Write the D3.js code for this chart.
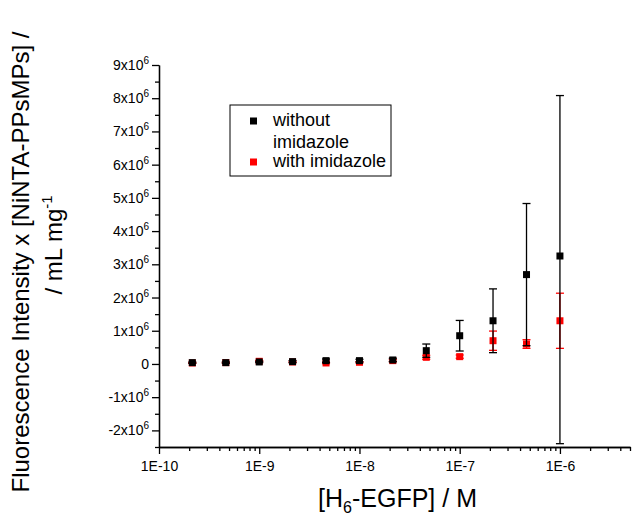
<!DOCTYPE html>
<html>
<head>
<meta charset="utf-8">
<script src="https://cdn.jsdelivr.net/npm/d3@7"></script>
<style>
  body { margin: 0; background: #fff; }
  svg { font-family: "Liberation Sans", Arial, sans-serif; }
</style>
</head>
<body>
<div id="chart"></div>
<script>
// [H6-EGFP] in M
const concentrations = [2.15e-10, 4.64e-10, 1e-9, 2.15e-9, 4.64e-9, 1e-8, 2.15e-8, 4.64e-8, 1e-7, 2.15e-7, 4.64e-7, 1e-6]
// intensity x [NiNTA-PPsMPs], in units of 1e6
const withoutMean = [0.04, 0.04, 0.06, 0.07, 0.10, 0.10, 0.12, 0.40, 0.85, 1.30, 2.69, 3.25]
const withoutErrUp = [0.02, 0.02, 0.02, 0.03, 0.05, 0.04, 0.05, 0.20, 0.46, 0.96, 2.14, 4.83]
const withoutErrDown = [0.02, 0.02, 0.02, 0.03, 0.05, 0.04, 0.05, 0.20, 0.46, 0.96, 2.14, 5.65]
const withMean = [0.03, 0.04, 0.08, 0.06, 0.03, 0.05, 0.10, 0.20, 0.22, 0.70, 0.60, 1.30]
const withErr = [0.01, 0.01, 0.02, 0.02, 0.02, 0.02, 0.03, 0.06, 0.05, 0.29, 0.13, 0.83]

const xMajorTicks = [1e-10, 1e-9, 1e-8, 1e-7, 1e-6]
const yMajorTicks = [-2, -1, 0, 1, 2, 3, 4, 5, 6, 7, 8, 9]
const seriesNames = ['without|imidazole', 'with imidazole']

const width = 635, height = 515
const margin = {top: 65, right: 5, bottom: 68, left: 159}
const plotWidth = width - margin.left - margin.right
const plotHeight = height - margin.top - margin.bottom

const x = d3.scaleLog().domain([1e-10, 5e-6]).range([0, plotWidth])
const y = d3.scaleLinear().domain([-2.5, 9]).range([plotHeight, 0])

const svg = d3.select('#chart').append('svg')
    .attr('width', width)
    .attr('height', height)

const g = svg.append('g')
    .attr('transform', `translate(${margin.left}, ${margin.top})`)

// minor ticks first, major axes on top
const xMinor = []
for (let e = -10; e <= -6; e++)
    for (let k = 2; k <= 9; k++)
        if (k * Math.pow(10, e) <= 5e-6) xMinor.push(k * Math.pow(10, e))
const yMinor = d3.range(-2.5, 9, 1)

g.append('g')
    .attr('transform', `translate(0, ${plotHeight})`)
    .call(d3.axisBottom(x).tickValues(xMinor).tickSize(4).tickFormat('').tickSizeOuter(0))
g.append('g')
    .call(d3.axisLeft(y).tickValues(yMinor).tickSize(4).tickFormat('').tickSizeOuter(0))

const xAxis = g.append('g')
    .attr('transform', `translate(0, ${plotHeight})`)
    .call(d3.axisBottom(x)
        .tickValues(xMajorTicks)
        .tickSize(7)
        .tickPadding(7)
        .tickSizeOuter(0)
        .tickFormat(d => '1E' + Math.round(Math.log10(d))))

const yAxis = g.append('g')
    .call(d3.axisLeft(y)
        .tickValues(yMajorTicks)
        .tickSize(7)
        .tickPadding(3)
        .tickSizeOuter(0))

svg.selectAll('.domain, .tick line').attr('stroke', '#000').attr('stroke-width', 1.3)
svg.selectAll('.tick text').attr('font-size', 14).attr('fill', '#000')
    .style('font-family', '"Liberation Sans", Arial, sans-serif')

// y labels as "Nx10^6"
yAxis.selectAll('.tick text').each(function (d) {
    const t = d3.select(this).text('')
    if (d === 0) { t.text('0'); return }
    t.append('tspan').text(d + 'x10')
    t.append('tspan').attr('font-size', 10).attr('dy', '-0.6em').text('6')
})

// error bars + squares, red series underneath
const series = [
    {mean: withMean, up: withErr, down: withErr, color: '#ff0000'},
    {mean: withoutMean, up: withoutErrUp, down: withoutErrDown, color: '#000000'},
]
const cap = 4, size = 7

series.forEach(s => {
    const data = concentrations.map((c, i) => ({x: c, y: s.mean[i], hi: s.mean[i] + s.up[i], lo: s.mean[i] - s.down[i]}))
    const bars = g.append('g').selectAll('g').data(data).enter().append('g')
        .attr('stroke', s.color)
        .attr('stroke-width', 1.3)
    bars.append('line')
        .attr('x1', d => x(d.x)).attr('x2', d => x(d.x))
        .attr('y1', d => y(d.lo)).attr('y2', d => y(d.hi))
    bars.append('line')
        .attr('x1', d => x(d.x) - cap).attr('x2', d => x(d.x) + cap)
        .attr('y1', d => y(d.hi)).attr('y2', d => y(d.hi))
    bars.append('line')
        .attr('x1', d => x(d.x) - cap).attr('x2', d => x(d.x) + cap)
        .attr('y1', d => y(d.lo)).attr('y2', d => y(d.lo))
    g.append('g').selectAll('rect').data(data).enter().append('rect')
        .attr('x', d => x(d.x) - size / 2)
        .attr('y', d => y(d.y) - size / 2)
        .attr('width', size).attr('height', size)
        .attr('fill', s.color)
})

// legend
const legend = svg.append('g').attr('transform', 'translate(230, 105)')
legend.append('rect')
    .attr('width', 161).attr('height', 71)
    .attr('fill', '#fff').attr('stroke', '#000').attr('stroke-width', 1)
const legendColors = ['#000000', '#ff0000']
const legendRows = [16, 57]
seriesNames.forEach((name, i) => {
    legend.append('rect')
        .attr('x', 20).attr('y', legendRows[i] - size / 2)
        .attr('width', size).attr('height', size)
        .attr('fill', legendColors[i])
    name.split('|').forEach((line, j) => {
        legend.append('text')
            .attr('x', 43).attr('y', legendRows[i] + 5 + j * 21.5)
            .attr('font-size', 18)
            .text(line)
    })
})

// axis titles
const xTitle = svg.append('text')
    .attr('x', margin.left + plotWidth / 2 + 3)
    .attr('y', 507)
    .attr('text-anchor', 'middle')
    .attr('font-size', 25)
xTitle.append('tspan').text('[H')
xTitle.append('tspan').attr('font-size', 16).attr('dy', 6).text('6')
xTitle.append('tspan').attr('dy', -6).text('-EGFP] / M')

const yTitle = svg.append('g')
    .attr('transform', `translate(0, ${margin.top + plotHeight / 2}) rotate(-90)`)
yTitle.append('text')
    .attr('x', -6).attr('y', 29)
    .attr('text-anchor', 'middle')
    .attr('font-size', 24)
    .text('Fluorescence Intensity x [NiNTA-PPsMPs] /')
const yTitle2 = yTitle.append('text')
    .attr('x', 11).attr('y', 62)
    .attr('text-anchor', 'middle')
    .attr('font-size', 24)
yTitle2.append('tspan').text('/ mL mg')
yTitle2.append('tspan').attr('font-size', 15).attr('dy', -10).text('-1')
</script>
</body>
</html>
